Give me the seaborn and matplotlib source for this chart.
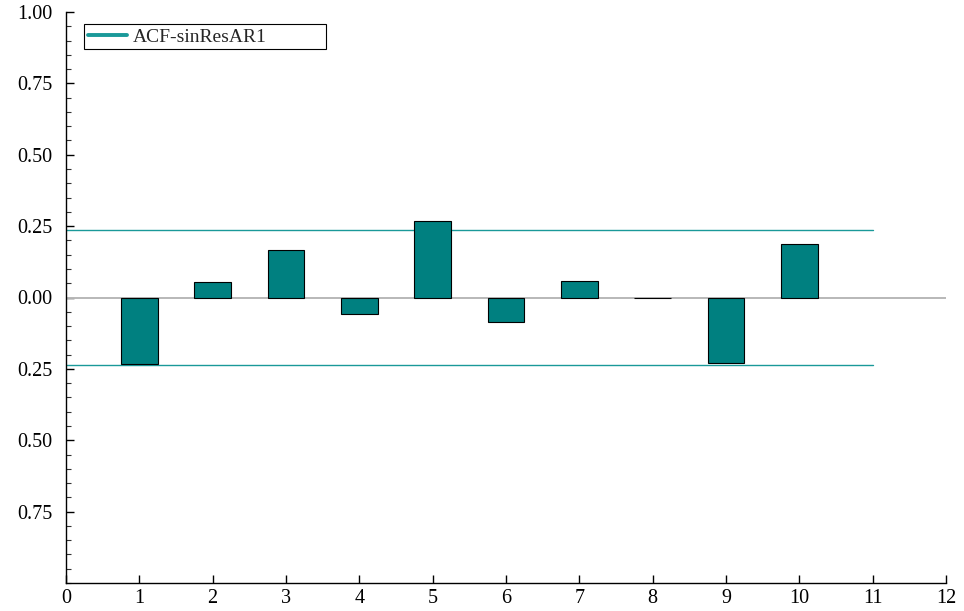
import matplotlib
matplotlib.use("Agg")
import matplotlib.pyplot as plt
from matplotlib.lines import Line2D
from matplotlib.ticker import FixedLocator, FixedFormatter, MultipleLocator
import seaborn as sns
import pandas as pd

lags = [1, 2, 3, 4, 5, 6, 7, 8, 9, 10]
acf_values = [-0.233, 0.055, 0.166, -0.058, 0.267, -0.085, 0.059, -0.003, -0.229, 0.189]
conf_bound = 0.236
series_label = "ACF-sinResAR1"
x_ticks = list(range(0, 13))
y_ticks = [-0.75, -0.5, -0.25, 0.0, 0.25, 0.5, 0.75, 1.0]
y_tick_labels = ["0.75", "0.50", "0.25", "0.00", "0.25", "0.50", "0.75", "1.00"]

sns.set_theme(style="white")
plt.rcParams["font.family"] = ["Liberation Serif", "DejaVu Serif"]
plt.rcParams["font.size"] = 14

teal = "#008080"
line_teal = "#1a9999"

fig = plt.figure(figsize=(9.64, 6.11), dpi=100)
ax = fig.add_axes([66 / 964, 1 - 583 / 611, (946 - 66) / 964, (583 - 12) / 611])

df = pd.DataFrame({"lag": lags, "acf": acf_values})

ax.plot([0, 12], [0, 0], color="#b8b8b8", lw=1.4, zorder=1)
ax.plot([0, 11], [conf_bound, conf_bound], color=line_teal, lw=1.0, zorder=1)
ax.plot([0, 11], [-conf_bound, -conf_bound], color=line_teal, lw=1.0, zorder=1)

sns.barplot(data=df, x="lag", y="acf", native_scale=True, width=0.5,
            color=teal, saturation=1, edgecolor="black", linewidth=0.8,
            ax=ax, zorder=3)

ax.set_xlim(0, 12)
ax.set_ylim(-1, 1)
ax.xaxis.set_major_locator(FixedLocator(x_ticks))
ax.set_xticklabels([str(t) for t in x_ticks])
ax.yaxis.set_major_locator(FixedLocator(y_ticks))
ax.yaxis.set_major_formatter(FixedFormatter(y_tick_labels))
ax.yaxis.set_minor_locator(MultipleLocator(0.05))
ax.set_xlabel("")
ax.set_ylabel("")

for s in ["top", "right"]:
    ax.spines[s].set_visible(False)
for s in ["left", "bottom"]:
    ax.spines[s].set_color("black")
    ax.spines[s].set_linewidth(1.0)

ax.tick_params(axis="both", which="major", direction="in", length=6, width=1.0,
               color="black", labelsize=14.5, labelcolor="black")
ax.tick_params(axis="y", which="minor", direction="in", length=3.5, width=0.8,
               color="#333333", left=True)
ax.tick_params(axis="x", which="both", bottom=True)
ax.tick_params(axis="y", which="both", left=True)
ax.tick_params(axis="y", which="major", pad=10)
ax.tick_params(axis="x", which="major", pad=4)

handle = Line2D([0], [0], color=line_teal, lw=2.8)
leg = ax.legend([handle], [series_label], loc="upper left",
                bbox_to_anchor=(18 / 880, 1 - 50 / 571 + 12 / 571, 242 / 880, 26 / 571),
                mode="expand", frameon=True, fancybox=False,
                edgecolor="black", framealpha=1, borderpad=0.2,
                handlelength=2.0, handletextpad=0.3, fontsize=14, borderaxespad=0)
leg.get_frame().set_linewidth(0.8)

fig.savefig("out.png", dpi=100)
